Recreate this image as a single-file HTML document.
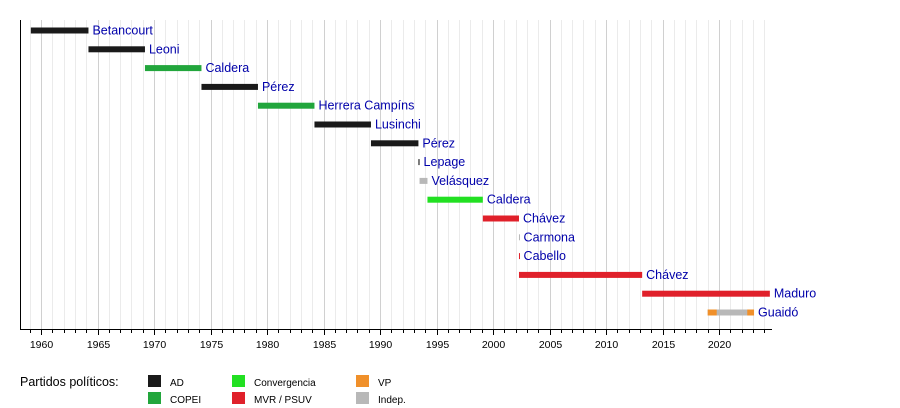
<!DOCTYPE html>
<html><head><meta charset="utf-8"><style>
body{margin:0;background:#fff;}
svg{display:block;font-family:"Liberation Sans",sans-serif;}
</style></head><body>
<svg width="900" height="408" xmlns="http://www.w3.org/2000/svg">
<g id="grid"></g>
<line x1="20" y1="329.5" x2="772" y2="329.5" stroke="#000" stroke-width="1"/>
<line x1="20.5" y1="20" x2="20.5" y2="330" stroke="#000" stroke-width="1"/>
<g id="bars"></g>
<g id="labels" font-size="12.5" fill="#0000aa"></g>
<g id="ticks"></g>
<g font-size="11" fill="#000">
<text x="20" y="386" font-size="12.5">Partidos políticos:</text>
<rect x="148" y="375" width="13" height="12" fill="#1a1a1a"/><text x="170" y="386" font-size="10">AD</text>
<rect x="148" y="392" width="13" height="12" fill="#22a63c"/><text x="170" y="403" font-size="10">COPEI</text>
<rect x="232" y="375" width="13" height="12" fill="#22e022"/><text x="254" y="386" font-size="10">Convergencia</text>
<rect x="232" y="392" width="13" height="12" fill="#e0202a"/><text x="254" y="403" font-size="10">MVR / PSUV</text>
<rect x="356" y="375" width="13" height="12" fill="#f0902a"/><text x="378" y="386" font-size="10">VP</text>
<rect x="356" y="392" width="13" height="12" fill="#b8b8b8"/><text x="378" y="403" font-size="10">Indep.</text>
</g>
<script>
var X=function(y){return 41+(y-1960)*11.3;};
var ns="http://www.w3.org/2000/svg";
function el(p,t,a,txt){var e=document.createElementNS(ns,t);for(var k in a)e.setAttribute(k,a[k]);if(txt)e.textContent=txt;document.getElementById(p).appendChild(e);}
for(var y=1959;y<=2024;y++){var x=Math.round(X(y))+0.5;
el("grid","line",{x1:x,y1:20,x2:x,y2:329,stroke:y%5==0?"#d0d0d0":"#ebebeb","stroke-width":1});
el("ticks","line",{x1:x,y1:330,x2:x,y2:y%5==0?335:333,stroke:"#000","stroke-width":1});
if(y%5==0)el("ticks","text",{x:x,y:348,"text-anchor":"middle","font-size":"10.5",fill:"#000"},String(y));}
var AD="#1a1a1a",CO="#22a63c",CV="#22e022",RD="#e0202a",GR="#b8b8b8",OR="#f0902a";
var rows=[["Betancourt",1959.1,1964.2,AD],["Leoni",1964.2,1969.2,AD],["Caldera",1969.2,1974.2,CO],["Pérez",1974.2,1979.2,AD],["Herrera Campíns",1979.2,1984.2,CO],["Lusinchi",1984.2,1989.2,AD],["Pérez",1989.2,1993.4,AD],["Lepage",1993.4,1993.5,AD],["Velásquez",1993.5,1994.2,GR],["Caldera",1994.2,1999.1,CV],["Chávez",1999.1,2002.3,RD],["Carmona",2002.3,2002.35,GR],["Cabello",2002.3,2002.35,RD],["Chávez",2002.3,2013.2,RD],["Maduro",2013.2,2024.5,RD],["Guaidó",2019,2023.1,GR]];
rows.forEach(function(r,i){var cy=30.5+i*18.8;var x1=X(r[1]),x2=X(r[2]);
el("bars","rect",{x:x1,y:cy-3,width:Math.max(1,x2-x1),height:6,fill:r[3]});
if(r[0]=="Guaidó"){el("bars","rect",{x:x1,y:cy-3,width:9,height:6,fill:OR});el("bars","rect",{x:X(2022.5),y:cy-3,width:X(2023.1)-X(2022.5),height:6,fill:OR});}
el("labels","text",{x:x2+4,y:cy+4},r[0]);});
</script>
</svg>
</body></html>
